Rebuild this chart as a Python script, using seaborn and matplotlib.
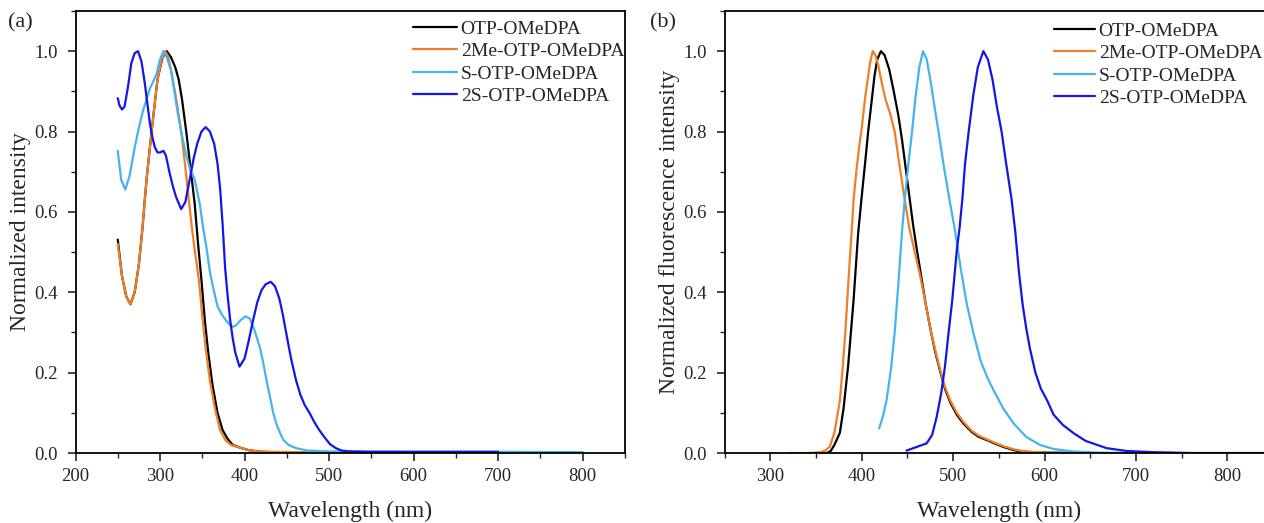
import numpy as np
import pandas as pd
import matplotlib
matplotlib.use("Agg")
import matplotlib.pyplot as plt
from matplotlib.ticker import MultipleLocator
import seaborn as sns

# ---------------- data: (a) UV-vis absorption ----------------
abs_otp_x = [250, 255, 260, 265, 270, 275, 279, 284, 290, 297, 303, 308, 313, 318, 322, 326, 331, 336,
             341, 345, 349, 353, 357, 362, 368, 374, 380, 386, 395, 405, 420, 450, 500, 600, 700, 800]
abs_otp_y = [0.531, 0.44, 0.39, 0.37, 0.40, 0.47, 0.555, 0.68, 0.80, 0.93, 0.985, 1.0, 0.985, 0.96, 0.93,
             0.88, 0.80, 0.71, 0.62, 0.52, 0.43, 0.33, 0.25, 0.17, 0.10, 0.057, 0.035, 0.02, 0.013, 0.007,
             0.003, 0.001, 0.0, 0.0, 0.0, 0.0]

abs_2me_x = [250, 255, 260, 265, 270, 275, 279, 284, 290, 297, 302, 306, 310, 315, 320, 325, 330, 334,
             338, 342, 346, 350, 354, 359, 365, 371, 378, 384, 390, 397, 405, 415, 430, 460, 500, 600, 700, 800]
abs_2me_y = [0.52, 0.44, 0.39, 0.37, 0.40, 0.47, 0.555, 0.68, 0.80, 0.93, 0.98, 1.0, 0.985, 0.93, 0.87,
             0.80, 0.71, 0.63, 0.555, 0.49, 0.43, 0.34, 0.26, 0.18, 0.11, 0.057, 0.03, 0.02, 0.016, 0.012,
             0.007, 0.004, 0.003, 0.002, 0.002, 0.002, 0.001, 0.001]

abs_s_x = [250, 254, 259, 264, 270, 275, 280, 284, 288, 292, 296, 300, 304, 308, 313, 317, 321, 325, 330,
           335, 341, 347, 351, 355, 359, 363, 368, 373, 378, 383, 386, 390, 395, 401, 406, 411, 418, 422,
           426, 430, 434, 438, 442, 446, 452, 461, 475, 500, 600, 700, 800]
abs_s_y = [0.752, 0.68, 0.656, 0.69, 0.76, 0.81, 0.853, 0.88, 0.907, 0.925, 0.944, 0.98, 1.0, 0.985, 0.952,
           0.90, 0.845, 0.80, 0.75, 0.71, 0.68, 0.62, 0.56, 0.51, 0.45, 0.41, 0.365, 0.345, 0.33, 0.318,
           0.314, 0.318, 0.33, 0.34, 0.335, 0.31, 0.264, 0.225, 0.18, 0.14, 0.099, 0.07, 0.05, 0.032, 0.02,
           0.012, 0.006, 0.004, 0.003, 0.003, 0.002]

abs_2s_x = [250, 252, 255, 258, 262, 266, 270, 274, 278, 282, 285, 288, 291, 294, 297, 300, 304, 307, 311,
            315, 319, 325, 330, 335, 340, 344, 349, 354, 359, 364, 368, 371, 374, 377, 380, 383, 386, 389,
            394, 400, 405, 410, 415, 420, 425, 431, 436, 441, 445, 450, 455, 461, 466, 471, 477, 483, 489,
            495, 501, 508, 515, 524, 550, 600, 700]
abs_2s_y = [0.883, 0.865, 0.855, 0.862, 0.91, 0.97, 0.995, 1.0, 0.975, 0.92, 0.87, 0.82, 0.785, 0.76,
            0.748, 0.748, 0.752, 0.74, 0.70, 0.665, 0.637, 0.607, 0.625, 0.68, 0.735, 0.77, 0.80, 0.811,
            0.80, 0.77, 0.72, 0.66, 0.57, 0.46, 0.39, 0.33, 0.285, 0.25, 0.215, 0.235, 0.28, 0.33, 0.375,
            0.405, 0.42, 0.426, 0.415, 0.385, 0.347, 0.29, 0.235, 0.18, 0.145, 0.12, 0.099, 0.075, 0.055,
            0.038, 0.022, 0.012, 0.006, 0.004, 0.003, 0.003, 0.003]

# ---------------- data: (b) fluorescence ----------------
fl_otp_x = [350, 362, 366, 370, 376, 380, 385, 391, 396, 400, 404, 407, 411, 414, 417, 421, 425, 430, 435,
            440, 444, 448, 452, 456, 460, 465, 470, 475, 480, 485, 491, 497, 504, 511, 520, 528, 537, 545,
            555, 565, 573, 585, 600, 650]
fl_otp_y = [0.0, 0.0, 0.005, 0.02, 0.05, 0.11, 0.215, 0.38, 0.546, 0.64, 0.73, 0.80, 0.88, 0.94, 0.98,
            1.0, 0.99, 0.955, 0.90, 0.84, 0.78, 0.71, 0.64, 0.57, 0.51, 0.44, 0.37, 0.31, 0.255, 0.21, 0.16,
            0.125, 0.095, 0.074, 0.053, 0.04, 0.032, 0.024, 0.015, 0.008, 0.004, 0.002, 0.001, 0.0]

fl_2me_x = [320, 340, 355, 360, 365, 370, 376, 379, 382, 386, 389, 391, 394, 397, 400, 404, 409, 412, 415,
            418, 422, 426, 431, 436, 441, 446, 452, 458, 464, 470, 475, 481, 486, 491, 497, 504, 511, 520,
            528, 537, 545, 555, 565, 573, 585, 600, 620]
fl_2me_y = [0.0, 0.0, 0.002, 0.006, 0.016, 0.05, 0.13, 0.21, 0.30, 0.45, 0.554, 0.63, 0.70, 0.76, 0.81,
            0.89, 0.97, 1.0, 0.99, 0.965, 0.92, 0.88, 0.845, 0.80, 0.72, 0.645, 0.56, 0.50, 0.44, 0.37,
            0.31, 0.25, 0.205, 0.165, 0.13, 0.10, 0.078, 0.056, 0.043, 0.034, 0.026, 0.017, 0.01, 0.006,
            0.003, 0.001, 0.0]

fl_s_x = [419, 423, 427, 432, 436, 440, 444, 447, 451, 455, 459, 463, 467, 471, 475, 479, 484, 490, 496,
          502, 508, 515, 522, 530, 537, 544, 555, 566, 580, 595, 610, 630, 660, 700, 750]
fl_s_y = [0.061, 0.09, 0.13, 0.21, 0.30, 0.42, 0.55, 0.63, 0.72, 0.80, 0.89, 0.96, 1.0, 0.98, 0.93, 0.87,
          0.80, 0.71, 0.63, 0.554, 0.463, 0.37, 0.30, 0.23, 0.19, 0.157, 0.11, 0.074, 0.04, 0.02, 0.01,
          0.004, 0.001, 0.0, 0.0]

fl_2s_x = [449, 460, 471, 477, 482, 487, 491, 495, 499, 504, 507, 510, 513, 517, 522, 527, 533, 538, 543,
           548, 553, 558, 564, 568, 572, 576, 580, 584, 590, 596, 603, 610, 620, 632, 645, 668, 690, 720,
           760, 850]
fl_2s_y = [0.006, 0.015, 0.024, 0.045, 0.09, 0.15, 0.215, 0.30, 0.38, 0.505, 0.56, 0.63, 0.72, 0.80, 0.89,
           0.96, 1.0, 0.98, 0.93, 0.86, 0.80, 0.72, 0.63, 0.55, 0.45, 0.37, 0.31, 0.26, 0.20, 0.16, 0.13,
           0.095, 0.07, 0.049, 0.03, 0.012, 0.005, 0.002, 0.0, 0.0]

names = ["OTP-OMeDPA", "2Me-OTP-OMeDPA", "S-OTP-OMeDPA", "2S-OTP-OMeDPA"]
colors = ["#000000", "#F07E26", "#45B4EE", "#1515E6"]

abs_series = [(abs_otp_x, abs_otp_y), (abs_2me_x, abs_2me_y), (abs_s_x, abs_s_y), (abs_2s_x, abs_2s_y)]
fl_series = [(fl_otp_x, fl_otp_y), (fl_2me_x, fl_2me_y), (fl_s_x, fl_s_y), (fl_2s_x, fl_2s_y)]

# ---------------- styling ----------------
sns.set_style("ticks")
plt.rcParams["font.family"] = ["Liberation Serif", "DejaVu Serif"]

W, H = 1264, 523
fig = plt.figure(figsize=(W / 100, H / 100), dpi=100)
fig.patch.set_facecolor("white")

ax_a = fig.add_axes([75.5 / W, (H - 453) / H, (625 - 75.5) / W, (453 - 11) / H])
ax_b = fig.add_axes([724.7 / W, (H - 453) / H, (1273 - 724.7) / W, (453 - 11) / H])


def draw(ax, series, xlim, xmajor_start, ylabel):
    for (xs, ys), name, c in zip(series, names, colors):
        df = pd.DataFrame({"x": xs, "y": ys})
        sns.lineplot(data=df, x="x", y="y", ax=ax, color=c, lw=1.6, estimator=None,
                     sort=False, label=name, legend=False)
    ax.set_xlim(*xlim)
    ax.set_ylim(0, 1.1)
    ax.set_xticks(np.arange(xmajor_start, 801, 100))
    ax.xaxis.set_minor_locator(MultipleLocator(50))
    ax.set_yticks(np.arange(0, 1.01, 0.2))
    ax.yaxis.set_minor_locator(MultipleLocator(0.1))
    ax.set_yticklabels([f"{v:.1f}" for v in np.arange(0, 1.01, 0.2)])
    ax.tick_params(which="major", direction="out", length=6, width=1.2, labelsize=13.5,
                   top=False, right=False, pad=5)
    ax.tick_params(which="minor", direction="out", length=3.5, width=1.0, top=False, right=False)
    ax.tick_params(axis="y", which="major", pad=7)
    for s in ax.spines.values():
        s.set_linewidth(1.3)
        s.set_color("black")
    ax.set_xlabel("Wavelength (nm)", fontsize=17, labelpad=11)
    ax.set_ylabel(ylabel, fontsize=17, labelpad=2)


draw(ax_a, abs_series, (200, 850), 200, "Normalized intensity")
draw(ax_b, fl_series, (250, 850), 300, "Normalized fluorescence intensity")

leg_kw = dict(frameon=False, fontsize=14, handletextpad=0.2,
              labelspacing=0.25, borderpad=0, borderaxespad=0, loc="upper left")
ax_a.legend(bbox_to_anchor=(413 / W, 1 - 20 / H), bbox_transform=fig.transFigure,
            handlelength=2.25, **leg_kw)
ax_b.legend(bbox_to_anchor=(1054 / W, 1 - 22 / H), bbox_transform=fig.transFigure,
            handlelength=2.1, **leg_kw)

fig.text(8 / W, 1 - 23 / H, "(a)", fontsize=16, va="center", ha="left")
fig.text(650 / W, 1 - 23 / H, "(b)", fontsize=16, va="center", ha="left")

fig.savefig("out.png", dpi=100, facecolor="white")
